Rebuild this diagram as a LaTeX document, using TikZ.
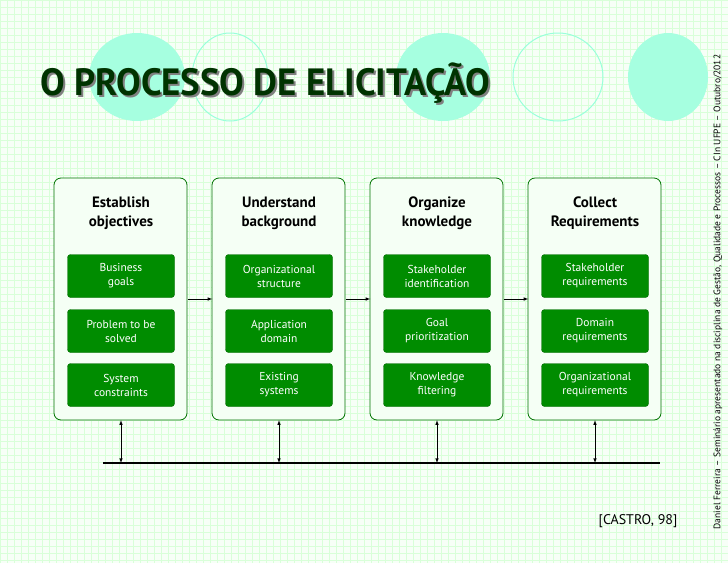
\documentclass[tikz,border=0pt]{standalone}
\usepackage{fontspec}
\setmainfont{PT Sans}
\begin{document}
\begin{tikzpicture}[x=1pt,y=-1pt,
  col/.style={draw=green!45!black,fill=green!4,rounded corners=7pt,line width=0.8pt},
  item/.style={fill=green!55!black,draw=green!40!black,rounded corners=3pt,minimum width=107pt,minimum height=43pt,text=white,align=center,font=\fontsize{11.5}{14}\selectfont,inner sep=1pt},
  head/.style={align=center,font=\bfseries\fontsize{15}{19}\selectfont},
  arr/.style={-latex,line width=0.6pt},
  darr/.style={latex-latex,line width=0.6pt}]
\useasboundingbox (0,0) rectangle (728,563);
\fill[green!3] (0,0) rectangle (728,563);
\draw[green!15,line width=0.3pt,step=7pt] (0,0) grid (728,563);
% circles
\tikzset{circf/.style={fill=green!35!cyan!35},circo/.style={draw=green!35!cyan!40,line width=1pt}}
\fill[circf] (137,77) ellipse (48 and 44);
\draw[circo] (230,77) ellipse (38 and 44);
\fill[circf] (443,77) ellipse (47 and 44);
\draw[circo] (558,77) ellipse (45 and 44);
\fill[circf] (668,77) ellipse (40 and 44);
\node[anchor=west,font=\bfseries\fontsize{38}{42}\selectfont,text=black!50,xscale=0.97,inner sep=0pt] at (42,85) {O PROCESSO DE ELICITAÇÃO};
\node[anchor=west,font=\bfseries\fontsize{38}{42}\selectfont,text=green!20!black,xscale=0.97,inner sep=0pt] (title) at (40,83) {O PROCESSO DE ELICITAÇÃO};
\node[rotate=90,font=\fontsize{9.5}{10}\selectfont] (side) at (718,292) {Daniel Ferreira -- Seminário apresentado na disciplina de Gestão, Qualidade e Processos -- CIn UFPE -- Outubro/2012};
\node[font=\fontsize{14}{16}\selectfont] (cite) at (638,521) {[CASTRO, 98]};
% columns
\foreach \i/\x/\h/\a/\b/\c in {
 1/121/{Establish\\objectives}/{Business\\goals}/{Problem to be\\solved}/{System\\constraints},
 2/279/{Understand\\background}/{Organizational\\structure}/{Application\\domain}/{Existing\\systems},
 3/437/{Organize\\knowledge}/{Stakeholder\\identification}/{Goal\\prioritization}/{Knowledge\\filtering},
 4/595/{Collect\\Requirements}/{Stakeholder\\requirements}/{Domain\\requirements}/{Organizational\\requirements}}{
 \draw[col] (\x-67,178) rectangle (\x+66,420);
 \node (c\i) at (\x,299) [minimum width=133pt,minimum height=242pt] {};
 \node[head] (h\i) at (\x,213) {\h};
 \node[item] (a\i) at (\x,276) {\a};
 \node[item] (b\i) at (\x,331) {\b};
 \node[item] (d\i) at (\x,385) {\c};
 \coordinate (bus\i) at (\x,463);
 \draw[darr] (c\i.south) -- (bus\i);
}
\draw[arr] (c1.east) -- (c2.west);
\draw[arr] (c2.east) -- (c3.west);
\draw[arr] (c3.east) -- (c4.west);
\coordinate (busL) at (103,463);
\coordinate (busR) at (660,463);
\draw[line width=1.5pt] (busL) -- (busR);
\end{tikzpicture}
\end{document}
